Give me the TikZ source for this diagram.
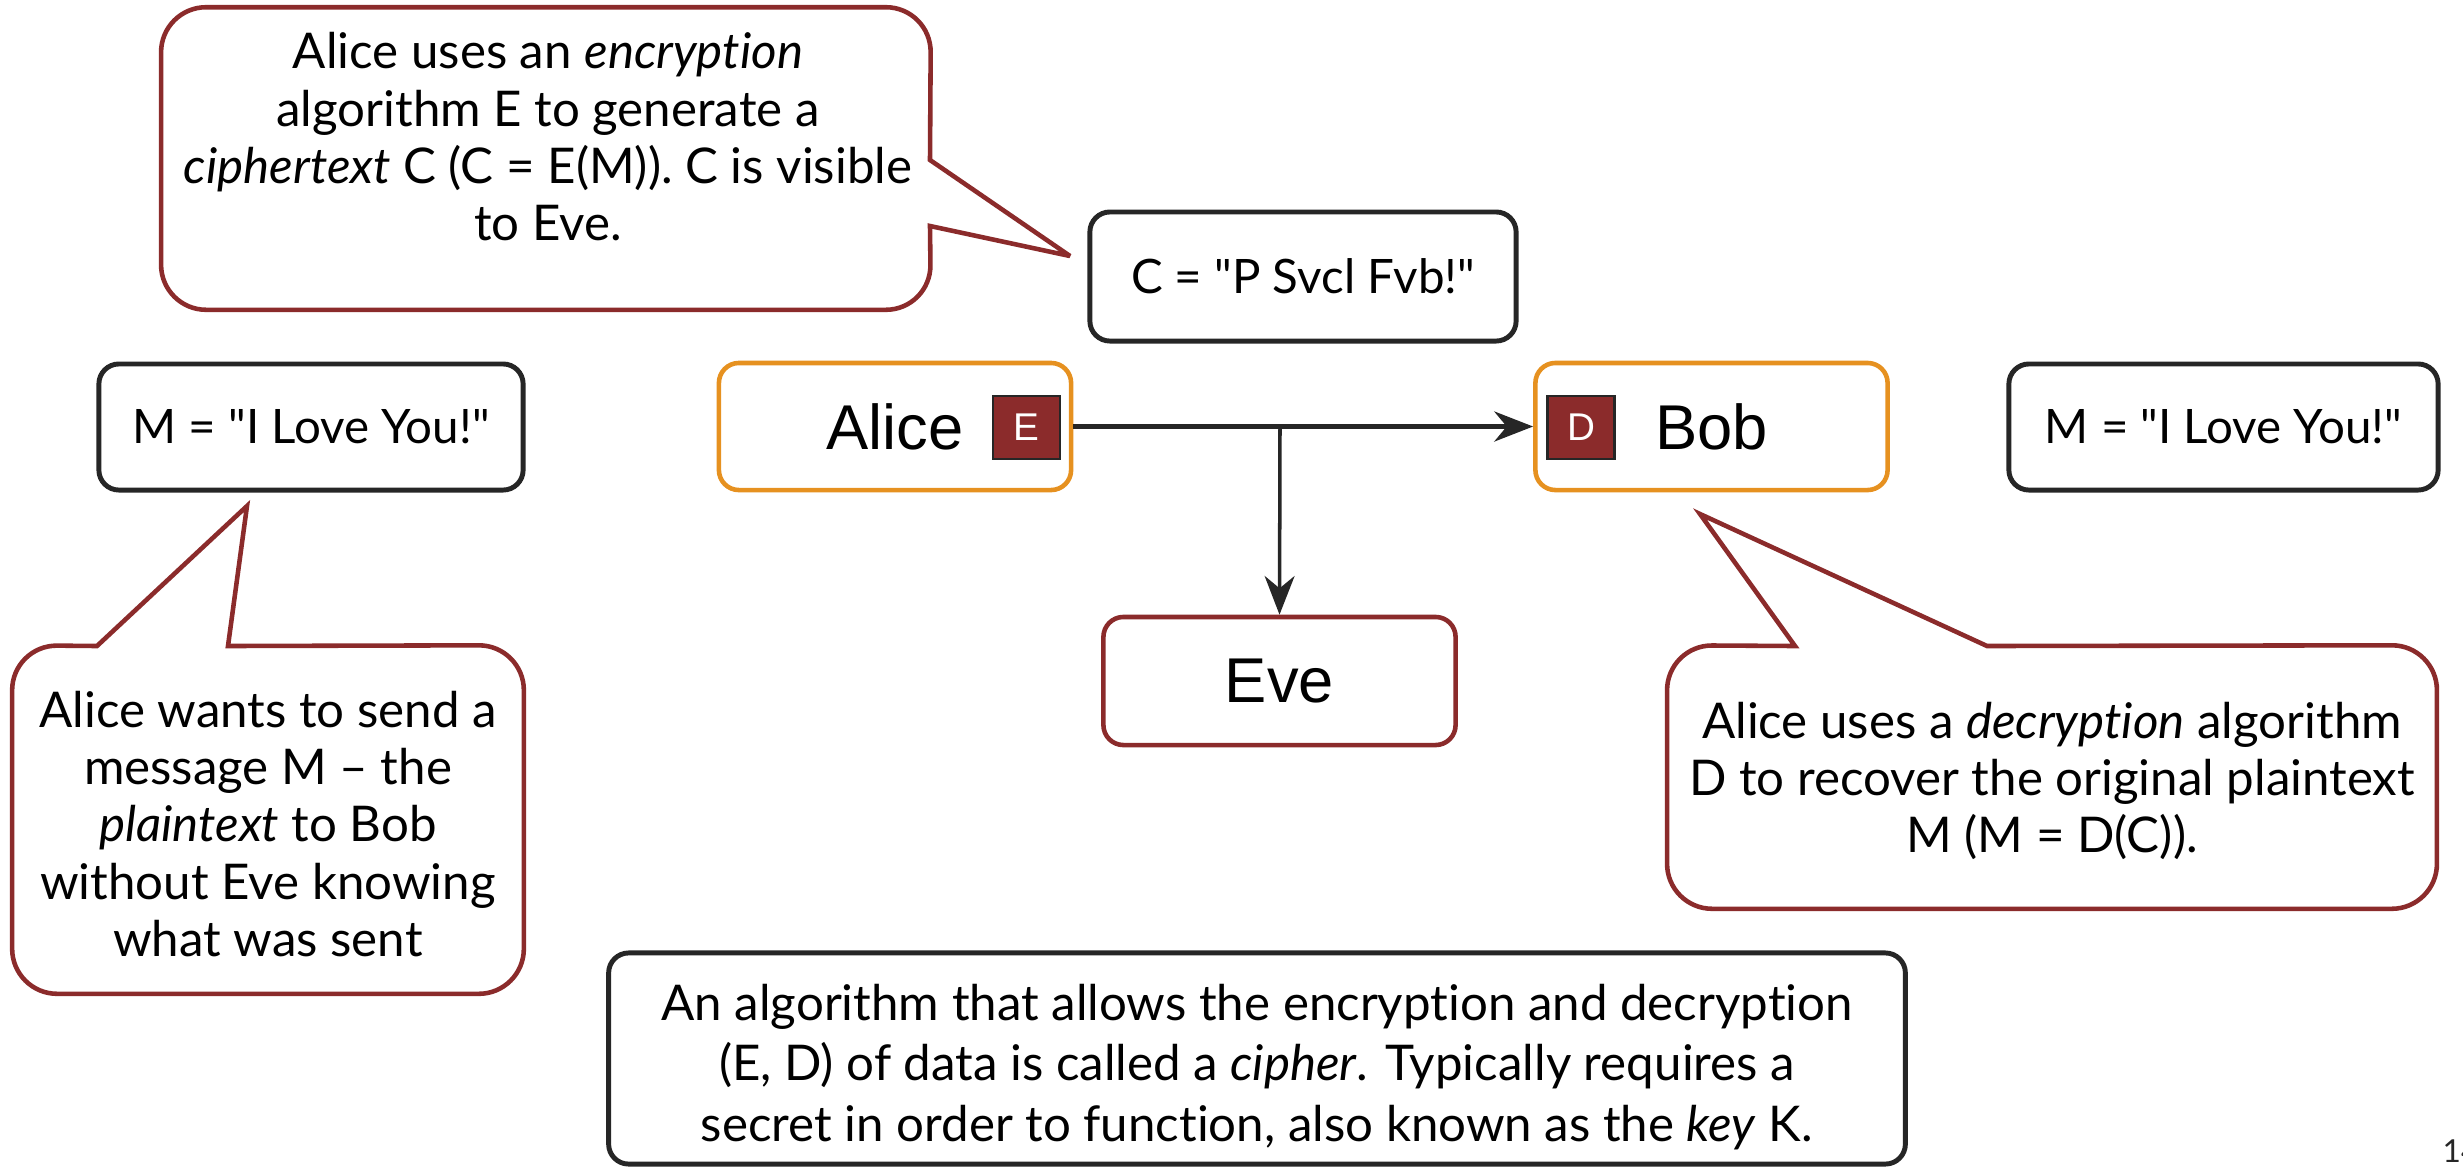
\documentclass[tikz,border=0pt]{standalone}
\usepackage{fontspec}
\setmainfont{Lato}[Ligatures={TeXOff,CommonOff}]
\newfontfamily\arialfont{Liberation Sans}
\usetikzlibrary{arrows.meta}

\definecolor{boxred}{RGB}{139,43,43}
\definecolor{boxorange}{RGB}{230,145,32}
\definecolor{boxdark}{RGB}{38,38,38}

\begin{document}
\begin{tikzpicture}[x=0.01cm,y=-0.01cm,
  textbox/.style={draw=boxdark, line width=1.4pt, rounded corners=0.2cm, align=center,
    font=\fontsize{13.5}{16.5}\selectfont, inner sep=0pt},
  actor/.style={draw=#1, line width=1.3pt, rounded corners=0.2cm,
    font=\arialfont\fontsize{18}{20}\selectfont, inner sep=0pt,
    minimum width=3.52cm, minimum height=1.27cm},
  keybox/.style={fill=boxred, draw=boxdark, line width=0.6pt, text=white,
    font=\arialfont\fontsize{11}{12}\selectfont,
    minimum width=0.67cm, minimum height=0.63cm, inner sep=0pt},
  body/.style={inner sep=0pt},
  calltext/.style={align=center, font=\fontsize{14}{16.3}\selectfont, inner sep=0pt},
  callout/.style={draw=boxred, line width=1.3pt, line join=miter, miter limit=4},
  link/.style={draw=boxdark, line width=#1, -{Stealth[length=11pt,width=8.5pt,inset=3.5pt]}},
]
\useasboundingbox (0,0) rectangle (2463,1166);

% plain text boxes
\node[textbox, minimum width=4.26cm, minimum height=1.29cm] (C) at (1303,276.5) {C = "P Svcl Fvb!"};
\node[textbox, minimum width=4.24cm, minimum height=1.26cm] (Ml) at (311,427) {M = "I Love You!"};
\node[textbox, minimum width=4.29cm, minimum height=1.26cm] (Mr) at (2223.5,427) {M = "I Love You!"};
\node[body, draw=boxdark, line width=1.4pt, rounded corners=0.2cm,
      minimum width=12.96cm, minimum height=2.11cm] (note) at (1257,1058.5) {};
\node[calltext, font=\fontsize{14}{17.2}\selectfont] (notetext) at (1257,1067)
  {An algorithm that allows the encryption and decryption\\
   (E, D) of data is called a \emph{cipher}. Typically requires a\\
   secret in order to function, also known as the \emph{key} K.};

% the three parties
\node[actor=boxorange] (alice) at (895,426.5) {Alice};
\node[actor=boxorange] (bob) at (1711.5,426.5) {Bob};
\node[actor=boxred, minimum height=1.28cm] (eve) at (1279.5,681) {Eve};
\node[keybox] (E) at (1026.5,427.5) {E};
\node[keybox] (D) at (1581,427.5) {D};

% message flow, tapped by Eve
\coordinate (tap) at (1280,427);
\draw[link=1.5pt] (alice.east) -- (bob.west);
\draw[link=1pt] (tap) -- (eve.north);

% callout: encryption
\node[body, minimum width=7.68cm, minimum height=3.01cm] (tc) at (546,158.5) {};
\node[calltext] (tct) at (548,137)
  {Alice uses an \emph{encryption}\\
   algorithm E to generate a\\
   \emph{ciphertext} C (C = E(M)). C is visible\\
   to Eve.};
\coordinate (tcA) at (930,160);
\coordinate (tcB) at (930,226);
\coordinate (tcTip) at (1070,256);
\draw[callout] (tcB) [rounded corners=0.45cm] -- (tc.south east) -- (tc.south west)
  -- (tc.north west) -- (tc.north east) [sharp corners] -- (tcA) -- (tcTip) -- cycle;

% callout: plaintext
\node[body, minimum width=5.10cm, minimum height=3.47cm] (lc) at (268,819.5) {};
\node[calltext] (lct) at (268,824)
  {Alice wants to send a\\
   message M – the\\
   \emph{plaintext} to Bob\\
   without Eve knowing\\
   what was sent};
\coordinate (lcA) at (97,646);
\coordinate (lcB) at (228,646);
\coordinate (lcTip) at (247,506);
\draw[callout] (lcB) [rounded corners=0.45cm] -- (lc.north east) -- (lc.south east)
  -- (lc.south west) -- (lc.north west) [sharp corners] -- (lcA) -- (lcTip) -- cycle;

% callout: decryption
\node[body, minimum width=7.68cm, minimum height=2.62cm] (rc) at (2052,777) {};
\node[calltext] (rct) at (2052,781)
  {Alice uses a \emph{decryption} algorithm\\
   D to recover the original plaintext\\
   M (M = D(C)).};
\coordinate (rcA) at (1795,646);
\coordinate (rcB) at (1987,646);
\coordinate (rcTip) at (1700,514);
\draw[callout] (rcB) [rounded corners=0.45cm] -- (rc.north east) -- (rc.south east)
  -- (rc.south west) -- (rc.north west) [sharp corners] -- (rcA) -- (rcTip) -- cycle;

% page number
\node[anchor=base west, inner sep=0pt, font=\fontsize{9}{10}\selectfont, text=boxdark]
  (page) at (2442,1162) {14};
\end{tikzpicture}
\end{document}
